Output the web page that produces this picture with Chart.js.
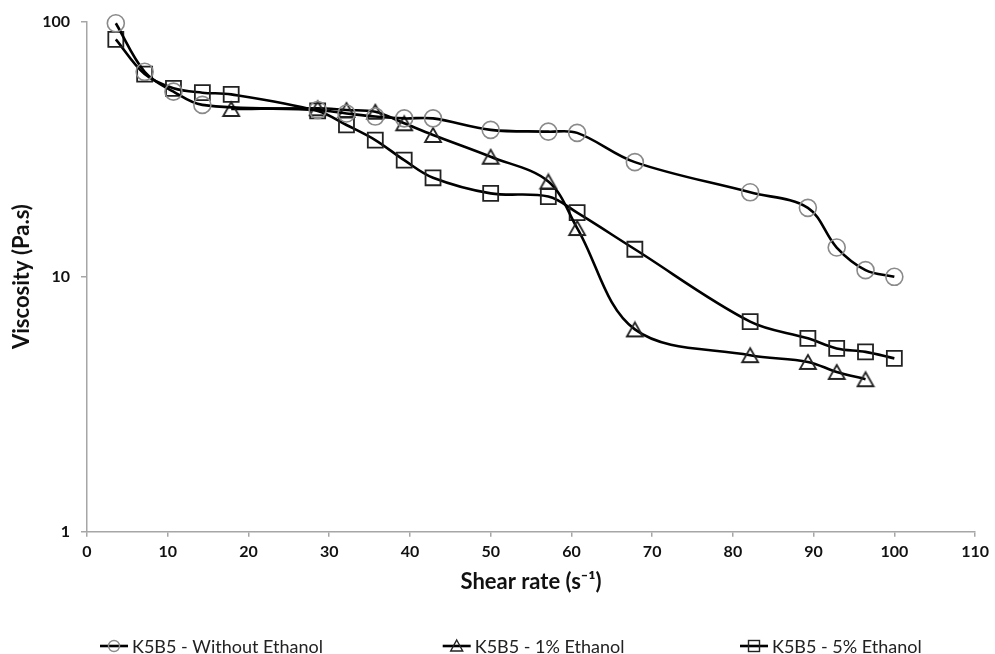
<!DOCTYPE html>
<html>
<head>
<meta charset="utf-8">
<script src="https://cdn.jsdelivr.net/npm/chart.js@4.4.0/dist/chart.umd.min.js"></script>
<style>
html,body{margin:0;padding:0;background:#fff;}
#wrap{width:995px;height:654px;position:relative;}
</style>
</head>
<body>
<div id="wrap"><canvas id="c" width="995" height="654"></canvas></div>
<script>
// ---- data ----
const seriesNames = ['K5B5 - Without Ethanol', 'K5B5 - 1% Ethanol', 'K5B5 - 5% Ethanol'];
const xNoEthanol = [3.57, 7.14, 10.71, 14.29, 28.57, 32.14, 35.71, 39.29, 42.86, 50, 57.14, 60.71, 67.86, 82.14, 89.29, 92.86, 96.43, 100];
const yNoEthanol = [98.4, 63.5, 53.1, 47.1, 45.0, 43.6, 42.4, 41.7, 41.7, 37.6, 37.0, 36.6, 28.1, 21.4, 18.6, 13.0, 10.6, 9.98];
const xEthanol1 = [17.86, 28.57, 32.14, 35.71, 39.29, 42.86, 50, 57.14, 60.71, 67.86, 82.14, 89.29, 92.86, 96.43];
const yEthanol1 = [45.4, 45.7, 45.0, 44.3, 39.9, 35.9, 29.5, 23.6, 15.5, 6.21, 4.92, 4.63, 4.23, 3.96];
const xEthanol5 = [3.57, 7.14, 10.71, 14.29, 17.86, 28.57, 32.14, 35.71, 39.29, 42.86, 50, 57.14, 60.71, 67.86, 82.14, 89.29, 92.86, 96.43, 100];
const yEthanol5 = [85.1, 62.2, 54.7, 52.6, 51.8, 44.6, 39.3, 34.3, 28.6, 24.4, 21.2, 20.6, 17.8, 12.8, 6.66, 5.73, 5.23, 5.07, 4.78];
const xTickLabels = [0, 10, 20, 30, 40, 50, 60, 70, 80, 90, 100, 110];
const yTickLabels = [1, 10, 100];
const xTitle = 'Shear rate (s\u207B\u00B9)';
const yTitle = 'Viscosity (Pa.s)';

const toPts = (xs, ys) => xs.map((x, i) => ({x: x, y: ys[i]}));

// ---- marker images ----
function makeTriangle() {
  const c = document.createElement('canvas');
  c.width = 20; c.height = 18;
  const g = c.getContext('2d');
  g.strokeStyle = '#222';
  g.lineWidth = 1.8;
  g.lineJoin = 'miter';
  g.beginPath();
  g.moveTo(10, 2);
  g.lineTo(18, 16);
  g.lineTo(2, 16);
  g.closePath();
  g.stroke();
  return c;
}
const triImg = makeTriangle();

const LINE_COLOR = '#000';
const AXIS_COLOR = '#a6a6a6';
const FONT = 'Lato, "Open Sans", sans-serif';

const datasets = [
  {
    label: seriesNames[0],
    data: toPts(xNoEthanol, yNoEthanol),
    borderColor: LINE_COLOR, borderWidth: 2.6,
    pointStyle: 'circle', pointRadius: 8.5,
    pointBorderColor: '#8a8a8a', pointBorderWidth: 1.6,
    pointBackgroundColor: 'rgba(0,0,0,0)',
    tension: 0.35, showLine: true, clip: false
  },
  {
    label: seriesNames[1],
    data: toPts(xEthanol1, yEthanol1),
    borderColor: LINE_COLOR, borderWidth: 2.6,
    pointStyle: triImg, pointRadius: 9,
    tension: 0.35, showLine: true, clip: false
  },
  {
    label: seriesNames[2],
    data: toPts(xEthanol5, yEthanol5),
    borderColor: LINE_COLOR, borderWidth: 2.6,
    pointStyle: 'rect', pointRadius: 10.6,
    pointBorderColor: '#222', pointBorderWidth: 1.8,
    pointBackgroundColor: 'rgba(0,0,0,0)',
    tension: 0.35, showLine: true, clip: false
  }
];

// ---- custom legend (Excel-like spacing) ----
const legendPlugin = {
  id: 'excelLegend',
  afterDraw(chart) {
    const ctx = chart.ctx;
    const starts = [100, 442.7, 740];
    const y = 646;
    ctx.save();
    ctx.font = '18px ' + FONT;
    ctx.textBaseline = 'middle';
    ctx.textAlign = 'left';
    chart.data.datasets.forEach((ds, i) => {
      const x0 = starts[i];
      ctx.strokeStyle = '#000';
      ctx.lineWidth = 2.6;
      ctx.beginPath();
      ctx.moveTo(x0, y);
      ctx.lineTo(x0 + 28, y);
      ctx.stroke();
      const cx = x0 + 14;
      if (i === 0) {
        ctx.strokeStyle = '#8a8a8a'; ctx.lineWidth = 1.4;
        ctx.beginPath(); ctx.arc(cx, y, 5.5, 0, Math.PI * 2); ctx.stroke();
      } else if (i === 1) {
        ctx.strokeStyle = '#222'; ctx.lineWidth = 1.4;
        ctx.beginPath(); ctx.moveTo(cx, y - 6); ctx.lineTo(cx + 6, y + 5); ctx.lineTo(cx - 6, y + 5); ctx.closePath(); ctx.stroke();
      } else {
        ctx.strokeStyle = '#222'; ctx.lineWidth = 1.4;
        ctx.strokeRect(cx - 5.5, y - 5.5, 11, 11);
      }
      ctx.fillStyle = '#222';
      ctx.fillText(ds.label, x0 + 32, y + 1);
    });
    ctx.restore();
  }
};

new Chart(document.getElementById('c'), {
  type: 'scatter',
  data: { datasets: datasets },
  options: {
    responsive: false,
    animation: false,
    devicePixelRatio: 1,
    layout: { padding: { left: 0, right: 16.3, top: 21.5, bottom: 58.8 } },
    plugins: { legend: { display: false }, tooltip: { enabled: false } },
    scales: {
      x: {
        type: 'linear', min: 0, max: 110,
        afterBuildTicks: s => { s.ticks = xTickLabels.map(v => ({value: v})); },
        afterFit: s => { s.height = 63.5; },
        ticks: { color: '#111', font: { family: FONT, size: 16, weight: 'bold' }, padding: 6, maxRotation: 0, autoSkip: false },
        grid: { display: true, drawOnChartArea: false, drawTicks: true, tickLength: 5, color: AXIS_COLOR, lineWidth: 1.5 },
        border: { display: true, color: AXIS_COLOR, width: 1.5 },
        title: { display: true, text: xTitle, color: '#111', font: { family: FONT, size: 22, weight: 'bold' }, padding: { top: 0, bottom: 0 } }
      },
      y: {
        type: 'logarithmic', min: 1, max: 100,
        afterBuildTicks: s => { s.ticks = yTickLabels.map(v => ({value: v})); },
        afterFit: s => { s.width = 87; },
        ticks: { color: '#111', font: { family: FONT, size: 16, weight: 'bold' }, padding: 11, autoSkip: false, callback: v => String(v) },
        grid: { display: true, drawOnChartArea: false, drawTicks: true, tickLength: 6, color: AXIS_COLOR, lineWidth: 1.5 },
        border: { display: true, color: AXIS_COLOR, width: 1.5 },
        title: { display: true, text: yTitle, color: '#111', font: { family: FONT, size: 22, weight: 'bold' }, padding: { top: 8.8, bottom: 0 } }
      }
    }
  },
  plugins: [legendPlugin]
});
</script>
</body>
</html>
